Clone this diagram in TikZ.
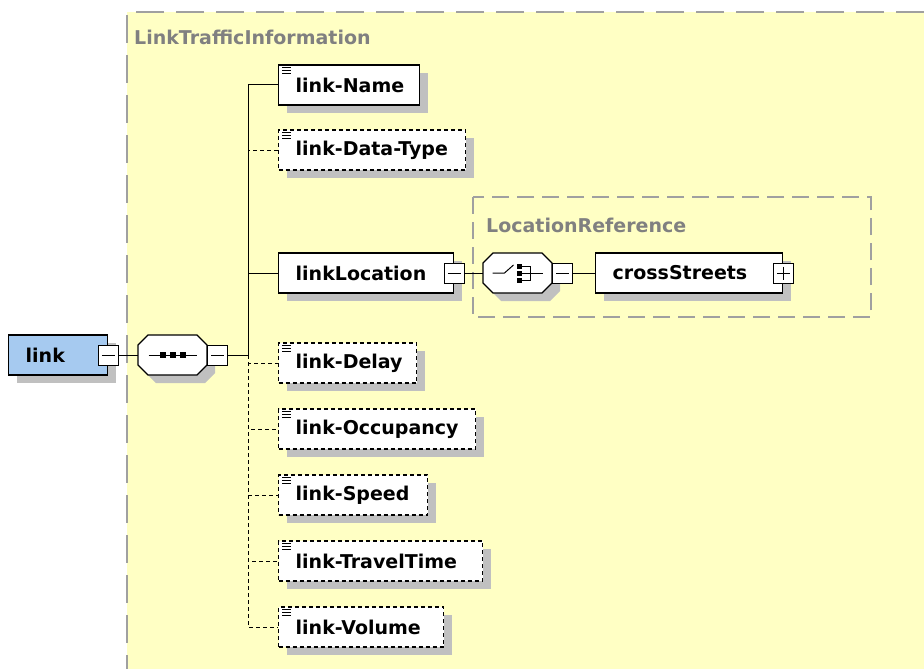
\documentclass[tikz,border=0pt]{standalone}
\usepackage{fontspec}
\setmainfont{DejaVu Sans}
\usetikzlibrary{shadows}
\definecolor{panelyellow}{RGB}{255,255,196}
\definecolor{linkblue}{RGB}{166,202,240}
\definecolor{shadowgray}{RGB}{192,192,192}
\definecolor{framegray}{RGB}{160,160,160}
\definecolor{titlegray}{RGB}{128,128,128}
\tikzset{
  shadowed/.style={drop shadow={shadow xshift=8pt, shadow yshift=-8pt, fill=shadowgray, opacity=1}},
  elem/.style={draw, line width=1.4pt, fill=white, shadowed, anchor=west,
    minimum height=40pt, inner xsep=17pt, inner ysep=0pt, align=left, text width=#1,
    font=\bfseries\fontsize{19}{22}\selectfont},
  optelem/.style={elem=#1, dash pattern=on 4pt off 3pt},
  compositor/.pic={
    \fill[shadowgray] (18,-12) -- (67,-12) -- (77,-2) -- (77,18) -- (67,28) -- (18,28) -- (8,18) -- (8,-2) -- cycle;
    \draw[line width=1.4pt, fill=white] (10,-20) -- (59,-20) -- (69,-10) -- (69,10) -- (59,20) -- (10,20) -- (0,10) -- (0,-10) -- cycle;
    \coordinate (-west) at (0,0);
    \coordinate (-center) at (34.5,0);
    \coordinate (-east) at (69,0);
  },
  minusbox/.style={draw, fill=white, line width=1pt, minimum size=20pt, inner sep=0pt,
    path picture={\draw[line width=1pt] ([xshift=3.5pt]path picture bounding box.west) -- ([xshift=-3.5pt]path picture bounding box.east);}},
  plusbox/.style={draw, fill=white, line width=1pt, minimum size=20pt, inner sep=0pt,
    path picture={\draw[line width=1pt] ([xshift=3.5pt]path picture bounding box.west) -- ([xshift=-3.5pt]path picture bounding box.east)
      ([yshift=-3.5pt]path picture bounding box.north) -- ([yshift=3.5pt]path picture bounding box.south);}},
  grouptitle/.style={text=titlegray, anchor=west, inner sep=0pt, font=\bfseries\fontsize{19}{22}\selectfont},
  conn/.style={line width=1pt},
  optconn/.style={line width=1pt, dash pattern=on 4pt off 3pt}
}
\begin{document}
\begin{tikzpicture}[x=1pt, y=-1pt]
  \useasboundingbox (0,0) rectangle (924,669);
  % complex type panel
  \fill[panelyellow] (127,12) rectangle (924,669);
  \draw[framegray, line width=1.5pt, dash pattern=on 28pt off 12pt] (924,12) -- (127,12) -- (127,669);
  \node[grouptitle] (paneltitle) at (134,37) {LinkTrafficInformation};

  % group reference
  \draw[framegray, line width=1.5pt, dash pattern=on 17pt off 8pt] (473,197) rectangle (871,317);
  \node[grouptitle] (grouptitle) at (486,225) {LocationReference};

  % root element and sequence
  \node[elem=65pt, fill=linkblue] (link) at (8,355) {link};
  \node[minusbox] (linkm) at (link.east) {};
  \pic (seq) at (138,355) {compositor};
  \node[minusbox, anchor=west] (seqm) at (seq-east) {};
  \draw[conn] (linkm) -- (seq-west);
  \draw[line width=1pt] ([xshift=-24pt]seq-center) -- ([xshift=24pt]seq-center);
  \foreach \dx in {-10pt,0pt,10pt}
    \fill ([xshift=\dx]seq-center) +(-3pt,-3pt) rectangle +(3pt,3pt);
  \coordinate (hub) at (248,355);
  \draw[conn] (seqm) -- (hub);

  % children
  \node[elem=107pt] (name) at (278,85) {\mbox{link-Name}};
  \node[optelem=153pt] (dtype) at (278,150) {\mbox{link-Data-Type}};
  \node[elem=141pt] (loc) at (278,273) {linkLocation};
  \node[optelem=104pt] (delay) at (278,363) {\mbox{link-Delay}};
  \node[optelem=163pt] (occ) at (278,429) {\mbox{link-Occupancy}};
  \node[optelem=115pt] (speed) at (278,495) {\mbox{link-Speed}};
  \node[optelem=170pt] (ttime) at (278,561) {\mbox{link-TravelTime}};
  \node[optelem=131pt] (volume) at (278,627) {\mbox{link-Volume}};
  \draw[conn] (hub) |- (name.west);
  \draw[conn] (hub) |- (loc.west);
  \foreach \n in {dtype,delay,occ,speed,ttime,volume}
    \draw[optconn] (hub) |- (\n.west);
  \foreach \n in {name,dtype,delay,occ,speed,ttime,volume}
    \foreach \d in {3pt,6pt,9pt}
      \draw[line width=0.9pt] ([xshift=4pt,yshift=-\d]\n.north west) -- ++(9pt,0pt);

  % choice inside LocationReference
  \node[minusbox] (locm) at (loc.east) {};
  \pic (choice) at (483,273) {compositor};
  \node[minusbox, anchor=west] (choicem) at (choice-east) {};
  \draw[conn] (locm) -- (choice-west);
  \draw[line width=1pt] ([xshift=-25pt]choice-center) -- ++(12pt,0pt) -- ++(9pt,8pt);
  \foreach \dy in {-7pt,0pt,7pt}
    \fill ([xshift=1.5pt,yshift=\dy]choice-center) +(-2.5pt,-2.5pt) rectangle +(2.5pt,2.5pt);
  \draw[line width=1pt] ([xshift=4pt,yshift=7pt]choice-center) -| ([xshift=13pt,yshift=-7pt]choice-center) -- ([xshift=4pt,yshift=-7pt]choice-center)
    ([xshift=4pt]choice-center) -- ([xshift=25pt]choice-center);
  \node[elem=153pt] (cross) at (595,273) {crossStreets};
  \node[plusbox] (crossp) at (cross.east) {};
  \draw[conn] (choicem) -- (cross);
\end{tikzpicture}
\end{document}
